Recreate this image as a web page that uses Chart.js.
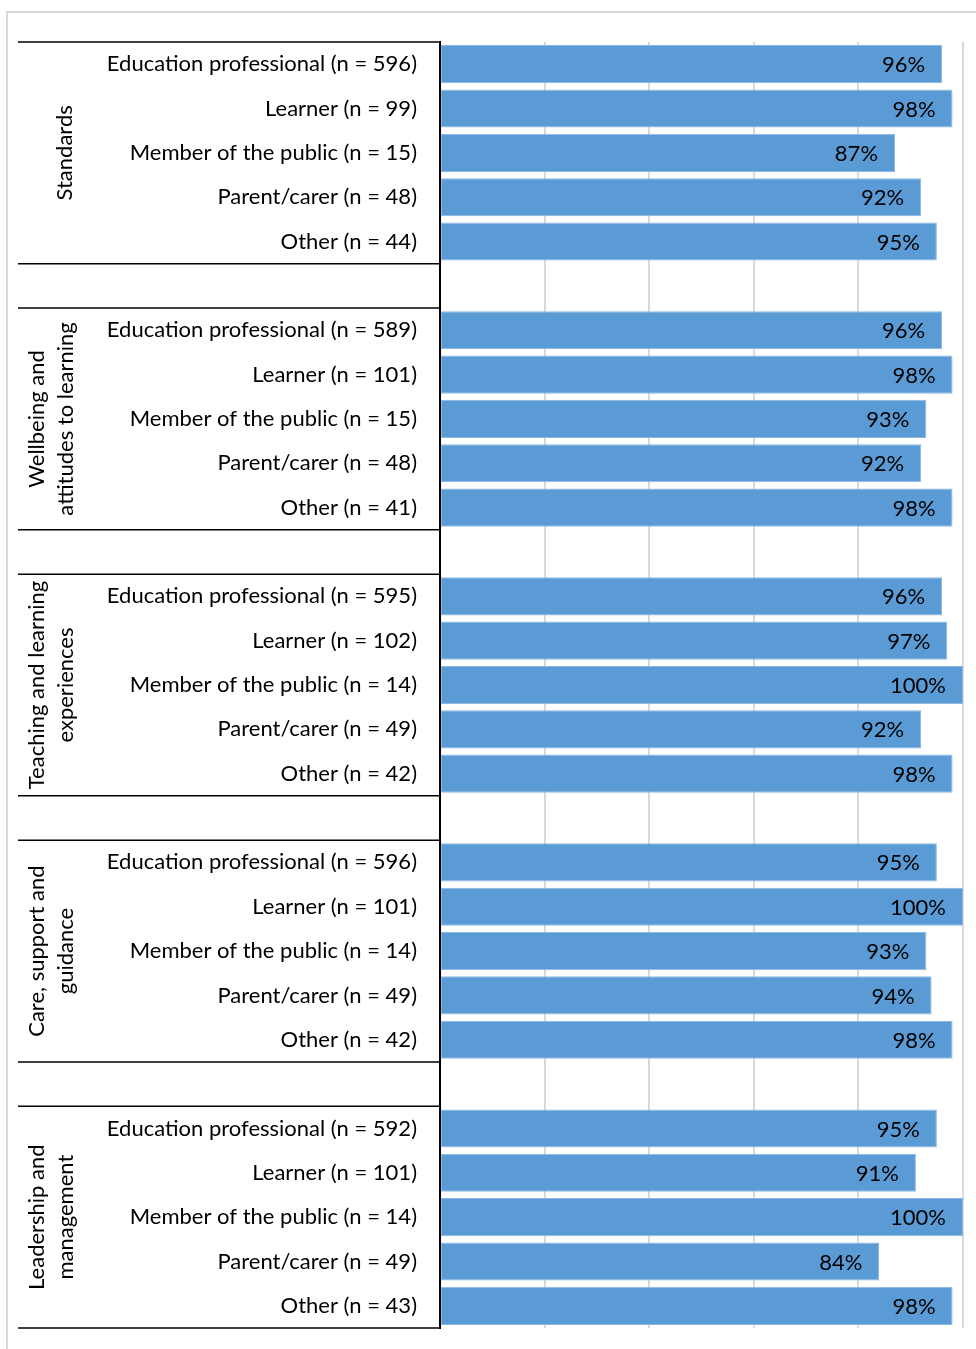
<!DOCTYPE html>
<html>
<head>
<meta charset="utf-8">
<script src="https://cdn.jsdelivr.net/npm/chart.js@4.4.1/dist/chart.umd.min.js"></script>
<style>
  body { margin: 0; background: #fff; }
  #wrap { position: relative; width: 976px; height: 1349px; }
</style>
</head>
<body>
<div id="wrap"><canvas id="myChart" width="976" height="1349"></canvas></div>
<script>
const groupNames = [
  ['Standards'],
  ['Wellbeing and', 'attitudes to learning'],
  ['Teaching and learning', 'experiences'],
  ['Care, support and', 'guidance'],
  ['Leadership and', 'management']
];
const roles = ['Education professional', 'Learner', 'Member of the public', 'Parent/carer', 'Other'];

const standardsN = [596, 99, 15, 48, 44];
const wellbeingN = [589, 101, 15, 48, 41];
const teachingN = [595, 102, 14, 49, 42];
const careN = [596, 101, 14, 49, 42];
const leadershipN = [592, 101, 14, 49, 43];

const standardsPct = [96, 98, 87, 92, 95];
const wellbeingPct = [96, 98, 93, 92, 98];
const teachingPct = [96, 97, 100, 92, 98];
const carePct = [95, 100, 93, 94, 98];
const leadershipPct = [95, 91, 100, 84, 98];

const allN = [standardsN, wellbeingN, teachingN, careN, leadershipN];
const allPct = [standardsPct, wellbeingPct, teachingPct, carePct, leadershipPct];

// flatten with an empty row between groups
const labels = [];
const values = [];
allN.forEach((ns, g) => {
  if (g > 0) { labels.push(''); values.push(null); }
  ns.forEach((n, i) => {
    labels.push(roles[i] + ' (n = ' + n + ')');
    values.push(allPct[g][i]);
  });
});

const FONT = 'Lato';

// white page + light outer frame
const framePlugin = {
  id: 'frame',
  beforeDraw(chart) {
    const ctx = chart.ctx;
    ctx.save();
    ctx.fillStyle = '#fff';
    ctx.fillRect(0, 0, chart.width, chart.height);
    ctx.strokeStyle = '#D9D9D9';
    ctx.lineWidth = 2;
    ctx.strokeRect(7, 12, 1100, 1500);
    ctx.restore();
  }
};

// group labels and the table lines on the left
const groupPlugin = {
  id: 'groups',
  afterDraw(chart) {
    const ctx = chart.ctx;
    const y = chart.scales.y;
    const band = y.getPixelForValue(1) - y.getPixelForValue(0);
    const left = 18;
    const right = chart.chartArea.left;
    ctx.save();
    ctx.strokeStyle = '#000';
    ctx.lineWidth = 1.5;
    groupNames.forEach((name, g) => {
      const first = g * 6;
      const top = y.getPixelForValue(first) - band / 2;
      const bottom = y.getPixelForValue(first + 4) + band / 2;
      [top, bottom].forEach(yy => {
        ctx.beginPath();
        ctx.moveTo(left, yy);
        ctx.lineTo(right, yy);
        ctx.stroke();
      });
      const mid = (top + bottom) / 2;
      ctx.fillStyle = '#000';
      ctx.font = '22px ' + FONT;
      ctx.textAlign = 'center';
      ctx.textBaseline = 'middle';
      const xs = name.length === 1 ? [65] : [37, 66];
      name.forEach((line, i) => {
        ctx.save();
        ctx.translate(xs[i], mid);
        ctx.rotate(-Math.PI / 2);
        ctx.fillText(line, 0, 0);
        ctx.restore();
      });
    });
    ctx.restore();
  }
};

// percentage inside the end of each bar
const valuePlugin = {
  id: 'values',
  afterDatasetsDraw(chart) {
    const ctx = chart.ctx;
    const meta = chart.getDatasetMeta(0);
    ctx.save();
    ctx.fillStyle = '#000';
    ctx.font = '22px ' + FONT;
    ctx.textAlign = 'right';
    ctx.textBaseline = 'middle';
    meta.data.forEach((bar, i) => {
      const v = values[i];
      if (v == null) return;
      ctx.fillText(v + '%', bar.x - 17, bar.y + 1);
    });
    ctx.restore();
  }
};

new Chart(document.getElementById('myChart'), {
  type: 'bar',
  data: {
    labels: labels,
    datasets: [{
      data: values,
      backgroundColor: '#5B9BD5',
      borderColor: '#8DB8E3',
      borderWidth: 1,
      borderSkipped: false,
      barPercentage: 0.86,
      categoryPercentage: 1
    }]
  },
  options: {
    responsive: false,
    animation: false,
    indexAxis: 'y',
    layout: { padding: { top: 42, bottom: 21, right: 13, left: 0 } },
    plugins: {
      legend: { display: false },
      tooltip: { enabled: false }
    },
    scales: {
      x: {
        min: 0,
        max: 100,
        afterFit(scale) { scale.height = 0; },
        ticks: { display: false, stepSize: 20 },
        grid: { color: '#D9D9D9', lineWidth: 2, drawTicks: false },
        border: { display: false }
      },
      y: {
        afterFit(scale) {
          scale.width = 440;
          scale.paddingTop = 0;
          scale.paddingBottom = 0;
        },
        ticks: {
          color: '#000',
          font: { family: FONT, size: 22 },
          padding: 23,
          autoSkip: false
        },
        grid: { display: false, drawTicks: false },
        border: { color: '#000', width: 2 }
      }
    }
  },
  plugins: [framePlugin, groupPlugin, valuePlugin]
});
</script>
</body>
</html>
